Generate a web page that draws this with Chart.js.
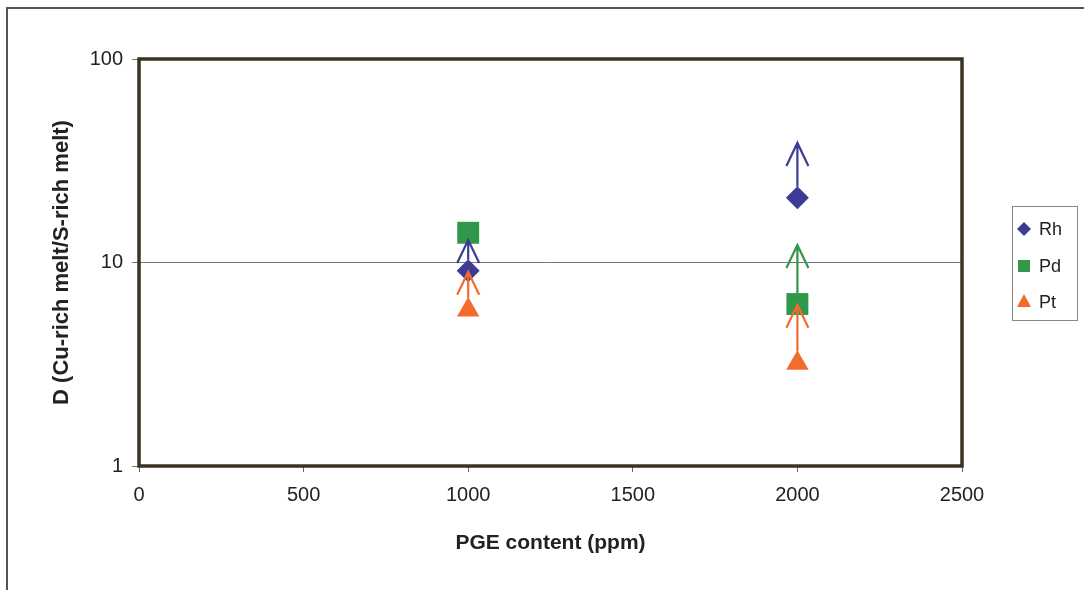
<!DOCTYPE html>
<html lang="en">
<head>
<meta charset="UTF-8">
<meta name="viewport" content="width=device-width, initial-scale=1.0">
<title>PGE content vs D</title>
<script src="https://cdn.jsdelivr.net/npm/chart.js"></script>
<style>
    body { margin: 0; background: #fff; }
    #wrap { position: relative; width: 1084px; height: 590px; overflow: hidden; }
    #frame { position: absolute; left: 6px; top: 7px; width: 1100px; height: 620px;
             border-left: 2px solid #555; border-top: 2px solid #555; }
    #myChart { position: relative; }
</style>
</head>
<body>
<div id="wrap">
    <div id="frame"></div>
    <canvas id="myChart"></canvas>
</div>
<script>
const pgeContent = [1000, 2000];
const rhValues = [9.1, 20.8];
const pdValues = [14.0, 6.25];
const ptValues = [5.85, 3.2];
// lower limits: arrow points up to these values
const rhArrowTo = [12.9, 38.7];
const pdArrowTo = [null, 12.2];
const ptArrowTo = [9.0, 6.2];
const yTicks = [1, 10, 100];

const rhColor = '#3c3c96';
const pdColor = '#30984a';
const ptColor = '#f36c2e';

function toPoints(values) {
    return pgeContent.map((x, i) => ({ x: x, y: values[i] }));
}

// open arrowheads pointing up from each marker
const arrowPlugin = {
    id: 'upArrows',
    afterDatasetsDraw(chart) {
        const ctx = chart.ctx;
        const xs = chart.scales.x, ys = chart.scales.y;
        chart.data.datasets.forEach((ds) => {
            if (!ds.arrowTo) return;
            ds.arrowTo.forEach((tip, j) => {
                if (tip == null) return;
                const px = xs.getPixelForValue(ds.data[j].x);
                const py0 = ys.getPixelForValue(ds.data[j].y) - ds.shaftGap;
                const py1 = ys.getPixelForValue(tip);
                ctx.save();
                ctx.strokeStyle = ds.borderColor;
                ctx.lineWidth = 2.2;
                ctx.beginPath();
                ctx.moveTo(px, py0);
                ctx.lineTo(px, py1);
                ctx.moveTo(px - 11, py1 + 23);
                ctx.lineTo(px, py1);
                ctx.lineTo(px + 11, py1 + 23);
                ctx.stroke();
                ctx.restore();
            });
        });
    }
};

// thick border round the plot area
const framePlugin = {
    id: 'plotFrame',
    afterDraw(chart) {
        const a = chart.chartArea, ctx = chart.ctx;
        ctx.save();
        ctx.strokeStyle = '#3b3222';
        ctx.lineWidth = 3.5;
        ctx.strokeRect(a.left, a.top, a.right - a.left, a.bottom - a.top);
        ctx.restore();
    }
};

function legendMarker(ctx, style, x, y, color) {
    ctx.fillStyle = color;
    ctx.beginPath();
    if (style === 'rectRot') {
        ctx.moveTo(x, y - 7); ctx.lineTo(x + 7, y); ctx.lineTo(x, y + 7); ctx.lineTo(x - 7, y);
    } else if (style === 'rect') {
        ctx.rect(x - 6, y - 6, 12, 12);
    } else {
        ctx.moveTo(x, y - 8); ctx.lineTo(x + 7, y + 5); ctx.lineTo(x - 7, y + 5);
    }
    ctx.closePath();
    ctx.fill();
}

// boxed legend on the right
const legendPlugin = {
    id: 'boxLegend',
    afterDraw(chart) {
        const ctx = chart.ctx;
        ctx.save();
        ctx.strokeStyle = '#888';
        ctx.lineWidth = 1;
        ctx.strokeRect(1012.5, 206.5, 65, 114);
        ctx.font = '18px "Liberation Sans", Arial, sans-serif';
        ctx.textBaseline = 'middle';
        const rows = [229, 266, 302];
        chart.data.datasets.forEach((ds, i) => {
            legendMarker(ctx, ds.pointStyle, 1024, rows[i], ds.backgroundColor);
            ctx.fillStyle = '#222';
            ctx.fillText(ds.label, 1039, rows[i] + 1);
        });
        ctx.restore();
    }
};

const data = {
    datasets: [{
        label: 'Rh',
        data: toPoints(rhValues),
        arrowTo: rhArrowTo,
        shaftGap: 11,
        pointStyle: 'rectRot',
        pointRadius: 11.5,
        backgroundColor: rhColor,
        borderColor: rhColor,
        pointBorderWidth: 0
    }, {
        label: 'Pd',
        data: toPoints(pdValues),
        arrowTo: pdArrowTo,
        shaftGap: 11,
        pointStyle: 'rect',
        pointRadius: 15.5,
        backgroundColor: pdColor,
        borderColor: pdColor,
        pointBorderWidth: 0
    }, {
        label: 'Pt',
        data: toPoints(ptValues),
        arrowTo: ptArrowTo,
        shaftGap: 12,
        pointStyle: 'triangle',
        pointRadius: 13,
        backgroundColor: ptColor,
        borderColor: ptColor,
        pointBorderWidth: 0
    }]
};

const tickFont = { family: '"Liberation Sans", Arial, sans-serif', size: 20 };

const config = {
    type: 'scatter',
    data: data,
    plugins: [arrowPlugin, framePlugin, legendPlugin],
    options: {
        responsive: true,
        maintainAspectRatio: false,
        animation: false,
        layout: { padding: { left: 0, top: 59, right: 122, bottom: 0 } },
        plugins: {
            legend: { display: false },
            tooltip: { enabled: false }
        },
        scales: {
            x: {
                type: 'linear',
                min: 0,
                max: 2500,
                ticks: { stepSize: 500, color: '#222', font: tickFont, padding: 11, maxRotation: 0,
                         callback: v => String(v) },
                grid: { drawOnChartArea: false, tickLength: 6, color: '#666' },
                border: { display: false },
                title: {
                    display: true,
                    text: 'PGE content (ppm)',
                    color: '#222',
                    font: { family: '"Liberation Sans", Arial, sans-serif', size: 21, weight: 'bold' },
                    padding: { top: 0, bottom: 34 }
                },
                afterFit(scale) { scale.height = 124; }
            },
            y: {
                type: 'logarithmic',
                min: 1,
                max: 100,
                afterBuildTicks(scale) { scale.ticks = yTicks.map(v => ({ value: v })); },
                ticks: { color: '#222', font: tickFont, padding: 9, callback: v => String(v) },
                grid: { color: '#777', lineWidth: 1, tickLength: 7 },
                border: { display: false },
                title: {
                    display: true,
                    text: 'D (Cu-rich melt/S-rich melt)',
                    color: '#222',
                    font: { family: '"Liberation Sans", Arial, sans-serif', size: 22, weight: 'bold' },
                    padding: { top: 49, bottom: 0 }
                },
                afterFit(scale) { scale.width = 139; }
            }
        }
    }
};

const myChart = new Chart(document.querySelector('#myChart'), config);
</script>
</body>
</html>
